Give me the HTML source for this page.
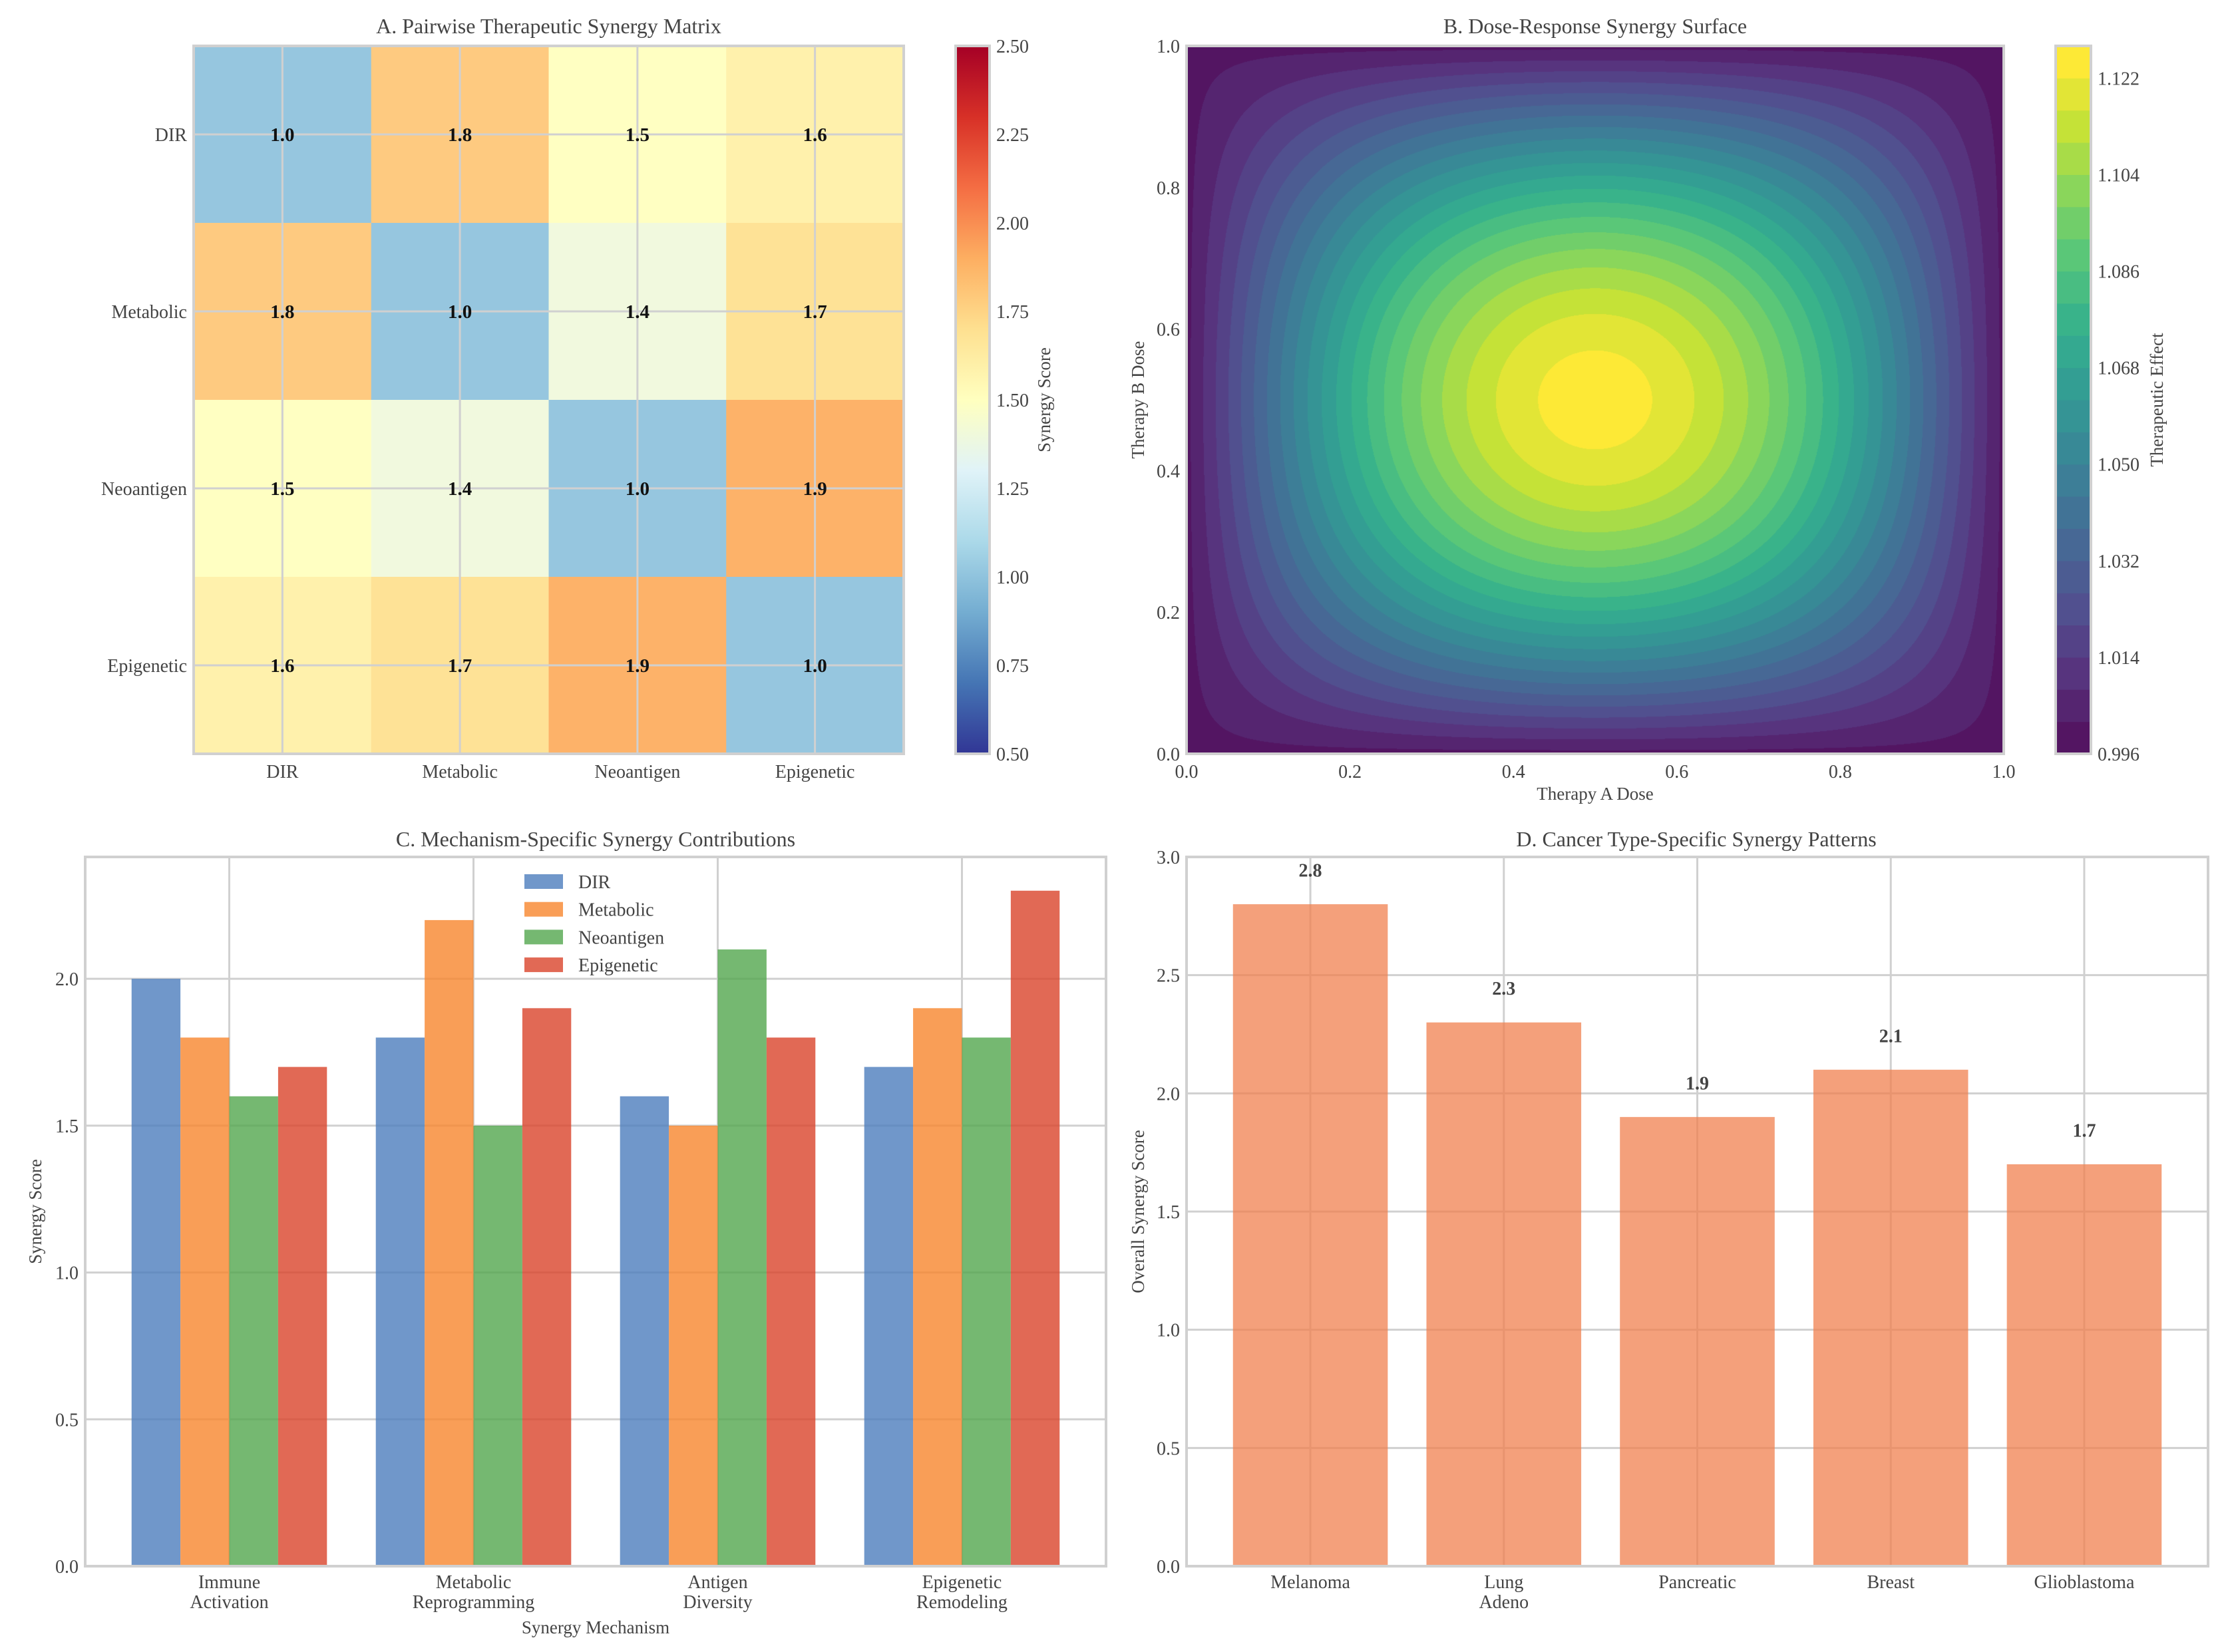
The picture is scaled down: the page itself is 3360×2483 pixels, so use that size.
<!DOCTYPE html>
<html><head><meta charset="utf-8">
<style>
html,body{margin:0;padding:0;background:#fff;}
#wrap{position:relative;width:3360px;height:2483px;}
svg{position:absolute;left:0;top:0;}
canvas{position:absolute;}
text{font-family:"Liberation Serif",serif;fill:#444;}
</style></head>
<body>
<div id="wrap">
<canvas id="surf" width="1228" height="1064" style="left:1783px;top:69px;"></canvas>
<svg id="fig" width="3360" height="2483" xmlns="http://www.w3.org/2000/svg"></svg>
</div>
<script>
// ---------- DATA ----------
const heatLabels = ["DIR","Metabolic","Neoantigen","Epigenetic"];
const heatRow0 = [1.0,1.8,1.5,1.6];
const heatRow1 = [1.8,1.0,1.4,1.7];
const heatRow2 = [1.5,1.4,1.0,1.9];
const heatRow3 = [1.6,1.7,1.9,1.0];
const heatCbarTicks = [0.5,0.75,1.0,1.25,1.5,1.75,2.0,2.25,2.5];

const surfAmplitude = [0.125];
const surfBase = [1.0];
const surfLevelStart = [0.996];
const surfLevelStep = [0.006];
const surfLevelCount = [22];
const surfCbarTicks = [0.996,1.014,1.032,1.050,1.068,1.086,1.104,1.122];
const surfAxisTicks = [0.0,0.2,0.4,0.6,0.8,1.0];

const mechCategories = [["Immune","Activation"],["Metabolic","Reprogramming"],["Antigen","Diversity"],["Epigenetic","Remodeling"]];
const mechSeriesNames = ["DIR","Metabolic","Neoantigen","Epigenetic"];
const mechDIR = [2.0,1.8,1.6,1.7];
const mechMetabolic = [1.8,2.2,1.5,1.9];
const mechNeoantigen = [1.6,1.5,2.1,1.8];
const mechEpigenetic = [1.7,1.9,1.8,2.3];
const mechYTicks = [0.0,0.5,1.0,1.5,2.0];

const cancerCategories = [["Melanoma"],["Lung","Adeno"],["Pancreatic"],["Breast"],["Glioblastoma"]];
const cancerValues = [2.8,2.3,1.9,2.1,1.7];
const cancerYTicks = [0.0,0.5,1.0,1.5,2.0,2.5,3.0];

// ---------- HELPERS ----------
const NS="http://www.w3.org/2000/svg";
const svg=document.getElementById('fig');
function el(tag,attrs,parent){const e=document.createElementNS(NS,tag);for(const k in attrs)e.setAttribute(k,attrs[k]);(parent||svg).appendChild(e);return e;}
function txt(s,x,y,attrs,parent){const t=el('text',Object.assign({x:x,y:y},attrs),parent);t.textContent=s;return t;}
const GRID="#d0d0d0";
function hex(c){return [parseInt(c.slice(1,3),16),parseInt(c.slice(3,5),16),parseInt(c.slice(5,7),16)];}
function interp(stops,t){t=Math.max(0,Math.min(1,t));const n=stops.length-1;const i=Math.min(n-1,Math.floor(t*n));const f=t*n-i;const a=hex(stops[i]),b=hex(stops[i+1]);return [0,1,2].map(k=>Math.round(a[k]+(b[k]-a[k])*f));}
function rgb(a){return 'rgb('+a.join(',')+')';}
function fade(c,a){return c.map(v=>Math.round(v*a+255*(1-a)));}
const RDYLBU_R=["#313695","#4575b4","#74add1","#abd9e9","#e0f3f8","#ffffbf","#fee090","#fdae61","#f46d43","#d73027","#a50026"];
const VIRIDIS=["#440154","#482475","#414487","#355f8d","#2a788e","#21918c","#22a884","#44bf70","#7ad151","#bddf26","#fde725"];

// ---------- PANEL A ----------
(function(){
  const L=291,T=69,W=1067,H=1064,n=4,cw=W/n,ch=H/n;
  const rows=[heatRow0,heatRow1,heatRow2,heatRow3];
  const g=el('g',{});
  
  
  const vmin=0.5,vmax=2.5;
  rows.forEach((row,r)=>row.forEach((v,c)=>{
    const rc=el('rect',{x:L+c*cw,y:T+r*ch,width:cw+0.5,height:ch+0.5,fill:rgb(fade(interp(RDYLBU_R,(v-vmin)/(vmax-vmin)),0.95))},g);
    
    
  }));
  for(let i=0;i<n;i++){
    el('line',{x1:L+(i+0.5)*cw,x2:L+(i+0.5)*cw,y1:T,y2:T+H,stroke:GRID,'stroke-width':3},g);
    el('line',{x1:L,x2:L+W,y1:T+(i+0.5)*ch,y2:T+(i+0.5)*ch,stroke:GRID,'stroke-width':3},g);
  }
  rows.forEach((row,r)=>row.forEach((v,c)=>{
    const t=txt(v.toFixed(1),L+(c+0.5)*cw,T+(r+0.5)*ch+10,{'text-anchor':'middle','font-size':29,'font-weight':'bold',style:'fill:#111'},g);
    
    
  }));
  el('rect',{x:L,y:T,width:W,height:H,fill:'none',stroke:GRID,'stroke-width':4},g);
  heatLabels.forEach((s,i)=>{
    const a=txt(s,L-10,T+(i+0.5)*ch+10,{'text-anchor':'end','font-size':28},g);
    
    
    const b=txt(s,L+(i+0.5)*cw,T+H+36,{'text-anchor':'middle','font-size':28},g);
    
    
  });
  const tt=txt("A. Pairwise Therapeutic Synergy Matrix",L+W/2,50,{'text-anchor':'middle','font-size':32},g);
  
  
  const cx=1436,cwid=51;
  const defs=el('defs',{});
  const lg=el('linearGradient',{id:'rdylbu',x1:0,y1:1,x2:0,y2:0},defs);
  RDYLBU_R.forEach((c,i)=>el('stop',{offset:(i/(RDYLBU_R.length-1)),'stop-color':c},lg));
  const cb=el('rect',{x:cx,y:T,width:cwid,height:H,fill:'url(#rdylbu)',stroke:GRID,'stroke-width':4},g);
  
  
  heatCbarTicks.forEach(v=>{
    const y=T+H-(v-vmin)/(vmax-vmin)*H;
    const t=txt(v.toFixed(2),cx+cwid+10,y+10,{'font-size':28},g);
    
    
  });
  const cl=txt("Synergy Score",0,0,{'text-anchor':'middle','font-size':27,transform:'translate(1578,'+(T+H/2)+') rotate(-90)'},g);
  
  
})();

// ---------- PANEL B ----------
(function(){
  const L=1783,T=69,W=1228,H=1064;
  const A=surfAmplitude[0],B0=surfBase[0],l0=surfLevelStart[0],st=surfLevelStep[0],nl=surfLevelCount[0];
  const cv=document.getElementById('surf');const ctx=cv.getContext('2d');
  const img=ctx.createImageData(W,H);
  const bandColors=[];for(let k=0;k<nl;k++)bandColors.push(fade(interp(VIRIDIS,k/(nl-1)),0.92));
  for(let py=0;py<H;py++){const yv=1-(py+0.5)/H;const sy=Math.sin(Math.PI*yv);
    for(let px=0;px<W;px++){const xv=(px+0.5)/W;const z=B0+A*Math.sin(Math.PI*xv)*sy;
      let k=Math.floor((z-l0)/st);k=Math.max(0,Math.min(nl-1,k));const c=bandColors[k];const o=(py*W+px)*4;
      img.data[o]=c[0];img.data[o+1]=c[1];img.data[o+2]=c[2];img.data[o+3]=255;}}
  ctx.putImageData(img,0,0);
  const g=el('g',{});
  
  
  el('rect',{x:L,y:T,width:W,height:H,fill:'none',stroke:GRID,'stroke-width':4},g);
  surfAxisTicks.forEach(v=>{
    const a=txt(v.toFixed(1),L+v*W,T+H+36,{'text-anchor':'middle','font-size':28},g);
    
    
    const b=txt(v.toFixed(1),L-10,T+H-v*H+10,{'text-anchor':'end','font-size':28},g);
    
    
  });
  const xl=txt("Therapy A Dose",L+W/2,1202,{'text-anchor':'middle','font-size':27},g);
  
  
  const yl=txt("Therapy B Dose",0,0,{'text-anchor':'middle','font-size':27,transform:'translate(1719,'+(T+H/2)+') rotate(-90)'},g);
  
  
  const tt=txt("B. Dose-Response Synergy Surface",L+W/2,50,{'text-anchor':'middle','font-size':32},g);
  
  
  const cx=3089,cwid=53,bh=H/nl;
  bandColors.forEach((c,k)=>{
    const r=el('rect',{x:cx,y:T+H-(k+1)*bh,width:cwid,height:bh+0.5,fill:rgb(c)},g);
    
    
  });
  el('rect',{x:cx,y:T,width:cwid,height:H,fill:'none',stroke:GRID,'stroke-width':4},g);
  const top=l0+nl*st;
  surfCbarTicks.forEach(v=>{
    const y=T+H-(v-l0)/(top-l0)*H;
    const t=txt(v.toFixed(3),cx+cwid+10,y+10,{'font-size':28},g);
    
    
  });
  const cl=txt("Therapeutic Effect",0,0,{'text-anchor':'middle','font-size':27,transform:'translate(3250,'+(T+H/2)+') rotate(-90)'},g);
  
  
})();

// ---------- PANEL C ----------
(function(){
  const L=128,T=1288,W=1534,H=1066;
  const xmin=-0.59,xmax=3.59,ymax=2.415;
  const X=v=>L+(v-xmin)/(xmax-xmin)*W, Y=v=>T+H-v/ymax*H;
  const g=el('g',{});
  
  
  mechYTicks.forEach(v=>{
    el('line',{x1:L,x2:L+W,y1:Y(v),y2:Y(v),stroke:GRID,'stroke-width':3},g);
    const t=txt(v.toFixed(1),L-10,Y(v)+10,{'text-anchor':'end','font-size':28},g);
    
    
  });
  mechCategories.forEach((c,i)=>{
    el('line',{x1:X(i),x2:X(i),y1:T,y2:T+H,stroke:GRID,'stroke-width':3},g);
    c.forEach((s,j)=>{
      const t=txt(s,X(i),T+H+33+j*30,{'text-anchor':'middle','font-size':28},g);
      
      
    });
  });
  const series=[mechDIR,mechMetabolic,mechNeoantigen,mechEpigenetic];
  const colors=["#4c7dbd","#f7862d","#52a64e","#d9432b"];
  const bw=0.2;
  series.forEach((vals,j)=>vals.forEach((v,i)=>{
    const x0=i+(j-2)*bw;
    const r=el('rect',{x:X(x0),y:Y(v),width:X(x0+bw)-X(x0),height:Y(0)-Y(v),fill:colors[j],'fill-opacity':0.8},g);
    
    
  }));
  el('rect',{x:L,y:T,width:W,height:H,fill:'none',stroke:GRID,'stroke-width':4},g);
  mechSeriesNames.forEach((s,j)=>{
    const ly=1325+j*41.7;
    const e=el('g',{},g);
    
    
    el('rect',{x:788,y:ly-11,width:58,height:22,fill:colors[j],'fill-opacity':0.8},e);
    txt(s,869,ly+10,{'font-size':28},e);
  });
  const xl=txt("Synergy Mechanism",895,2455,{'text-anchor':'middle','font-size':27},g);
  
  
  const yl=txt("Synergy Score",0,0,{'text-anchor':'middle','font-size':27,transform:'translate(62,'+(T+H/2)+') rotate(-90)'},g);
  
  
  const tt=txt("C. Mechanism-Specific Synergy Contributions",895,1272,{'text-anchor':'middle','font-size':32},g);
  
  
})();

// ---------- PANEL D ----------
(function(){
  const L=1783,T=1288,W=1535,H=1066;
  const xmin=-0.64,xmax=4.64,ymax=3.0;
  const X=v=>L+(v-xmin)/(xmax-xmin)*W, Y=v=>T+H-v/ymax*H;
  const g=el('g',{});
  
  
  cancerYTicks.forEach(v=>{
    el('line',{x1:L,x2:L+W,y1:Y(v),y2:Y(v),stroke:GRID,'stroke-width':3},g);
    const t=txt(v.toFixed(1),L-10,Y(v)+10,{'text-anchor':'end','font-size':28},g);
    
    
  });
  cancerCategories.forEach((c,i)=>{
    el('line',{x1:X(i),x2:X(i),y1:T,y2:T+H,stroke:GRID,'stroke-width':3},g);
    c.forEach((s,j)=>{
      const t=txt(s,X(i),T+H+33+j*30,{'text-anchor':'middle','font-size':28},g);
      
      
    });
  });
  cancerValues.forEach((v,i)=>{
    const r=el('rect',{x:X(i-0.4),y:Y(v),width:X(i+0.4)-X(i-0.4),height:Y(0)-Y(v),fill:'#f0804f','fill-opacity':0.75},g);
    
    
    const t=txt(v.toFixed(1),X(i),Y(v+0.1)-6,{'text-anchor':'middle','font-size':28,'font-weight':'bold'},g);
    
    
  });
  el('rect',{x:L,y:T,width:W,height:H,fill:'none',stroke:GRID,'stroke-width':4},g);
  const yl=txt("Overall Synergy Score",0,0,{'text-anchor':'middle','font-size':27,transform:'translate(1719,'+(T+H/2)+') rotate(-90)'},g);
  
  
  const tt=txt("D. Cancer Type-Specific Synergy Patterns",2549,1272,{'text-anchor':'middle','font-size':32},g);
  
  
})();
</script>
</body></html>
